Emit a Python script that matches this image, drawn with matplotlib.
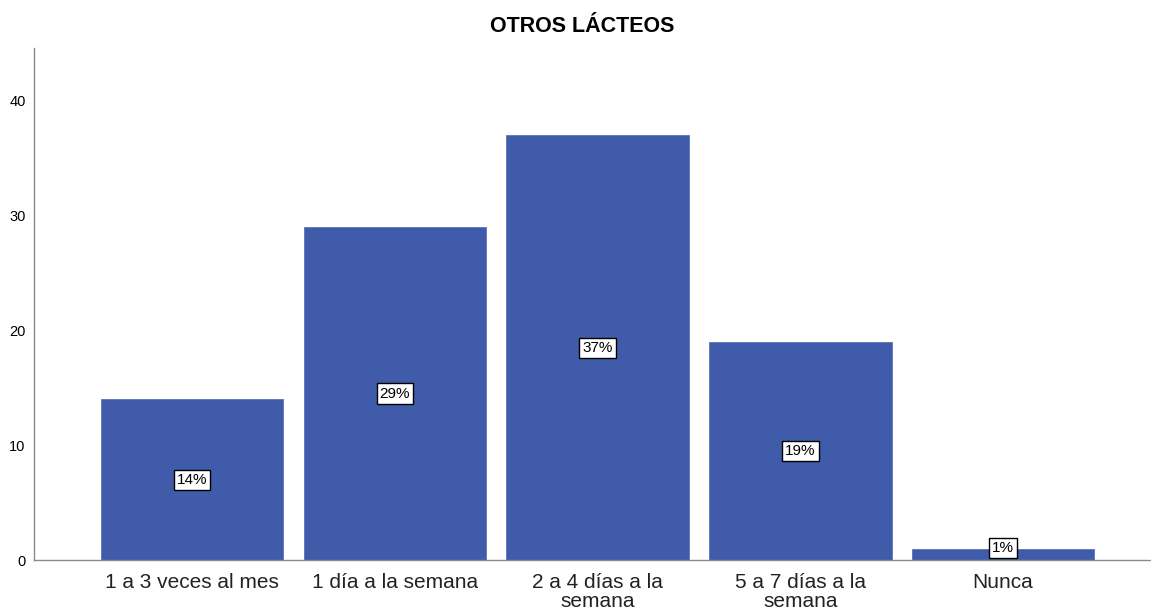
import matplotlib
matplotlib.use("Agg")
import matplotlib.pyplot as plt

categories = ["1 a 3 veces al mes", "1 día a la semana", "2 a 4 días a la\nsemana",
              "5 a 7 días a la\nsemana", "Nunca"]
values = [14, 29, 37, 19, 1]
pct_labels = ["14%", "29%", "37%", "19%", "1%"]
title = "OTROS LÁCTEOS"

plt.rcParams['font.family'] = ['Liberation Sans', 'DejaVu Sans']

fig = plt.figure(figsize=(11.51, 6.09), dpi=100)
ax = fig.add_axes([34/1151, 49/609, 1 - 34/1151, (560-48)/609])

x = list(range(len(categories)))
ax.bar(x, values, width=0.9, color="#3F5BA9", edgecolor="#5A73B8", linewidth=0.6, zorder=2)

for xi, v, lab in zip(x, values, pct_labels):
    ypos = max(v / 2, 1.05)
    ax.text(xi, ypos, lab, ha="center", va="center", fontsize=11, color="black",
            bbox=dict(boxstyle="square,pad=0.2", facecolor="white", edgecolor="black", linewidth=1.0),
            zorder=3)

ax.set_xlim(-0.78, 4.73)
ax.set_ylim(0, 44.6)
ax.set_yticks([0, 10, 20, 30, 40])
ax.set_xticks(x)
ax.set_xticklabels(categories, fontsize=15, color="#222222", linespacing=1.05)
ax.tick_params(axis="y", labelsize=10.5, length=0, pad=6)
ax.tick_params(axis="x", length=0, pad=9)

for s in ["top", "right"]:
    ax.spines[s].set_visible(False)
for s in ["left", "bottom"]:
    ax.spines[s].set_color("#8a8a8a")
    ax.spines[s].set_linewidth(1.0)

fig.text(582/1151, 1 - 27/609, title, ha="center", va="center", fontsize=15.5, fontweight="bold")

fig.savefig("out.png", dpi=100)
